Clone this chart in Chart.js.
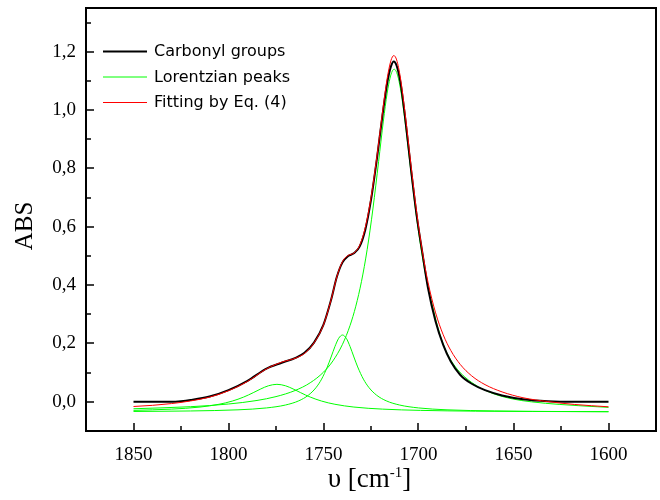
<!DOCTYPE html>
<html>
<head>
<meta charset="utf-8">
<script src="https://cdn.jsdelivr.net/npm/chart.js@4.4.1/dist/chart.umd.min.js"></script>
<style>
  html, body { margin: 0; padding: 0; background: #ffffff; }
  canvas { display: block; }
</style>
</head>
<body>
<canvas id="chart" width="660" height="500"></canvas>
<script>
// Wavenumber grid (cm^-1) for the measured band and the fitted curve
const wavenumber = [1850, 1840, 1830, 1825, 1820, 1810, 1800, 1790, 1780, 1772, 1765, 1760, 1755, 1750,
  1746, 1743, 1740, 1737, 1734, 1731, 1728, 1725, 1722, 1719, 1716.5, 1714.5, 1713, 1711.5, 1709.5,
  1707, 1704, 1701, 1698, 1695, 1691, 1687, 1683, 1678, 1672, 1665, 1656, 1645, 1632, 1618, 1600];

// Measured absorbance of the carbonyl band
const carbonyl = [0.000, 0.000, 0.000, 0.002, 0.006, 0.018, 0.040, 0.072, 0.114, 0.134, 0.150, 0.168, 0.203, 0.265,
  0.350, 0.428, 0.478, 0.500, 0.509, 0.532, 0.590, 0.692, 0.828, 0.980, 1.092, 1.150, 1.167, 1.152, 1.095,
  0.972, 0.800, 0.640, 0.512, 0.390, 0.275, 0.195, 0.138, 0.092, 0.062, 0.040, 0.022, 0.009, 0.002, 0.000, 0.000];

// Sum of the Lorentzian components (Eq. 4)
const fitting = [-0.016, -0.012, -0.006, -0.002, 0.003, 0.016, 0.038, 0.070, 0.113, 0.136, 0.149, 0.166, 0.202, 0.264,
  0.350, 0.428, 0.481, 0.502, 0.510, 0.536, 0.598, 0.700, 0.836, 0.990, 1.108, 1.170, 1.187, 1.172, 1.110,
  0.986, 0.814, 0.652, 0.517, 0.410, 0.305, 0.230, 0.176, 0.128, 0.089, 0.059, 0.034, 0.014, 0.001, -0.009, -0.017];

// Lorentzian component near 1775 cm^-1
const peak1X = [1850, 1830, 1815, 1805, 1798, 1792, 1787, 1783, 1779, 1774.5, 1770, 1766, 1762, 1757, 1751,
  1744, 1734, 1719, 1699, 1670, 1640, 1600];
const peak1Y = [-0.0293, -0.0250, -0.0179, -0.0084, 0.0026, 0.0164, 0.0313, 0.0442, 0.0550, 0.0600, 0.0550,
  0.0442, 0.0313, 0.0164, 0.0026, -0.0084, -0.0179, -0.0250, -0.0293, -0.0320, -0.0331, -0.0339];

// Lorentzian component near 1740 cm^-1
const peak2X = [1850, 1820, 1795, 1780, 1770, 1763, 1758, 1754, 1751, 1748, 1746, 1744, 1742, 1740, 1738,
  1736, 1734, 1732, 1729, 1726, 1722, 1717, 1710, 1700, 1685, 1660, 1630, 1600];
const peak2Y = [-0.0330, -0.0313, -0.0274, -0.0209, -0.0109, 0.0035, 0.0225, 0.0482, 0.0778, 0.1195, 0.1537,
  0.1892, 0.2178, 0.2290, 0.2178, 0.1892, 0.1537, 0.1195, 0.0778, 0.0482, 0.0225, 0.0035, -0.0109, -0.0209,
  -0.0274, -0.0313, -0.0330, -0.0338];

// Lorentzian component near 1713 cm^-1
const peak3X = [1850, 1820, 1800, 1785, 1775, 1765, 1757, 1750, 1745, 1740, 1736, 1733, 1730, 1727, 1724,
  1721, 1718.5, 1716.5, 1715, 1713.8, 1712.8, 1711.8, 1710.6, 1709.1, 1707.1, 1704.6, 1701.6, 1698.6, 1695.6,
  1692.6, 1689.6, 1685.6, 1680.6, 1675.6, 1668.6, 1660.6, 1650.6, 1640.6, 1625.6, 1605.6, 1600];
const peak3Y = [-0.0237, -0.0167, -0.0075, 0.0047, 0.0179, 0.0387, 0.0653, 0.1017, 0.1407, 0.1972, 0.2622,
  0.3278, 0.4129, 0.5228, 0.6610, 0.8233, 0.9624, 1.0581, 1.1095, 1.1336, 1.1400, 1.1336, 1.1095, 1.0581,
  0.9624, 0.8233, 0.6610, 0.5228, 0.4129, 0.3278, 0.2500, 0.1750, 0.1200, 0.0850, 0.0520, 0.0280, 0.0100,
  0.0000, -0.0090, -0.0170, -0.0190];

// Axis ticks and labels
const xTickValues = [1850, 1800, 1750, 1700, 1650, 1600];
const xTickLabels = ['1850', '1800', '1750', '1700', '1650', '1600'];
const xMinorTicks = [1825, 1775, 1725, 1675, 1625];
const yTickValues = [0, 0.2, 0.4, 0.6, 0.8, 1.0, 1.2];
const yTickLabels = ['0,0', '0,2', '0,4', '0,6', '0,8', '1,0', '1,2'];
const yMinorTicks = [0.1, 0.3, 0.5, 0.7, 0.9, 1.1, 1.3];

const seriesNames = ['Carbonyl groups', 'Lorentzian peaks', 'Fitting by Eq. (4)'];
const seriesColors = ['#000000', '#00ff00', '#ff0000'];
const seriesWidths = [2, 1, 1];

const serif = "'Liberation Serif', 'Times New Roman', serif";
const sans = "'DejaVu Sans', Verdana, sans-serif";

function pairs(xs, ys) {
  return xs.map((x, i) => ({ x: x, y: ys[i] }));
}

function lineSet(label, xs, ys, idx, order) {
  return {
    label: label,
    data: pairs(xs, ys),
    borderColor: seriesColors[idx],
    backgroundColor: seriesColors[idx],
    borderWidth: seriesWidths[idx],
    pointRadius: 0,
    pointHoverRadius: 0,
    fill: false,
    cubicInterpolationMode: 'monotone',
    order: order
  };
}

// Frame, inward tick marks, axis titles and the legend box
const decorations = {
  id: 'decorations',
  afterDraw(chart) {
    const ctx = chart.ctx;
    const area = chart.chartArea;
    const xs = chart.scales.x;
    const ys = chart.scales.y;
    ctx.save();
    ctx.strokeStyle = '#000';
    ctx.lineWidth = 2;
    ctx.strokeRect(area.left, area.top, area.right - area.left, area.bottom - area.top);

    ctx.lineWidth = 1.5;
    ctx.beginPath();
    xTickValues.forEach(v => {
      const px = Math.round(xs.getPixelForValue(v));
      ctx.moveTo(px, area.bottom); ctx.lineTo(px, area.bottom - 8);
    });
    xMinorTicks.forEach(v => {
      const px = Math.round(xs.getPixelForValue(v));
      ctx.moveTo(px, area.bottom); ctx.lineTo(px, area.bottom - 5);
    });
    yTickValues.forEach(v => {
      const py = Math.round(ys.getPixelForValue(v));
      ctx.moveTo(area.left, py); ctx.lineTo(area.left + 8, py);
    });
    yMinorTicks.forEach(v => {
      const py = Math.round(ys.getPixelForValue(v));
      ctx.moveTo(area.left, py); ctx.lineTo(area.left + 5, py);
    });
    ctx.stroke();

    // x-axis title with superscript
    ctx.fillStyle = '#000';
    ctx.textBaseline = 'alphabetic';
    ctx.textAlign = 'left';
    const big = '27px ' + serif;
    const small = '15px ' + serif;
    ctx.font = big;
    const w1 = ctx.measureText('\u03C5 [cm').width;
    const w3 = ctx.measureText(']').width;
    ctx.font = small;
    const w2 = ctx.measureText('-1').width;
    const total = w1 + w2 + w3;
    let tx = 369.5 - total / 2;
    const base = 487;
    ctx.font = big;
    ctx.fillText('\u03C5 [cm', tx, base);
    ctx.font = small;
    ctx.fillText('-1', tx + w1, base - 10);
    ctx.font = big;
    ctx.fillText(']', tx + w1 + w2, base);

    // y-axis title
    ctx.save();
    ctx.font = '25px ' + serif;
    ctx.textAlign = 'center';
    ctx.translate(32, 226);
    ctx.rotate(-Math.PI / 2);
    ctx.fillText('ABS', 0, 0);
    ctx.restore();

    // legend
    ctx.font = '16px ' + sans;
    ctx.textBaseline = 'middle';
    ctx.textAlign = 'left';
    const rows = [51.5, 77, 102.5];
    seriesNames.forEach((name, i) => {
      ctx.strokeStyle = seriesColors[i];
      ctx.lineWidth = seriesWidths[i];
      ctx.beginPath();
      ctx.moveTo(103, rows[i]);
      ctx.lineTo(147, rows[i]);
      ctx.stroke();
      ctx.fillStyle = '#000';
      ctx.fillText(name, 154, rows[i] + 0.5);
    });
    ctx.restore();
  }
};

new Chart(document.getElementById('chart'), {
  type: 'line',
  data: {
    datasets: [
      lineSet(seriesNames[2], wavenumber, fitting, 2, 0),
      lineSet(seriesNames[0], wavenumber, carbonyl, 0, 1),
      lineSet(seriesNames[1], peak1X, peak1Y, 1, 2),
      lineSet(seriesNames[1], peak2X, peak2Y, 1, 2),
      lineSet(seriesNames[1], peak3X, peak3Y, 1, 2)
    ]
  },
  options: {
    responsive: false,
    animation: false,
    devicePixelRatio: 1,
    layout: { padding: { top: 8, right: 4, left: 0, bottom: 0 } },
    plugins: {
      legend: { display: false },
      tooltip: { enabled: false },
      title: { display: false }
    },
    scales: {
      x: {
        type: 'linear',
        reverse: true,
        min: 1575,
        max: 1875,
        grid: { display: false, drawTicks: false },
        border: { display: false },
        afterBuildTicks: s => { s.ticks = xTickValues.map(v => ({ value: v })); },
        afterFit: s => { s.height = 69; s.paddingLeft = 0; s.paddingRight = 0; },
        ticks: {
          padding: 13,
          color: '#000',
          font: { family: serif, size: 19 },
          maxRotation: 0,
          autoSkip: false,
          callback: (v, i) => xTickLabels[i]
        }
      },
      y: {
        type: 'linear',
        min: -0.1,
        max: 1.35,
        grid: { display: false, drawTicks: false },
        border: { display: false },
        afterBuildTicks: s => { s.ticks = yTickValues.map(v => ({ value: v })); },
        afterFit: s => { s.width = 86; s.paddingTop = 0; s.paddingBottom = 0; },
        ticks: {
          padding: 10,
          color: '#000',
          font: { family: serif, size: 19 },
          autoSkip: false,
          callback: (v, i) => yTickLabels[i]
        }
      }
    }
  },
  plugins: [decorations]
});
</script>
</body>
</html>
